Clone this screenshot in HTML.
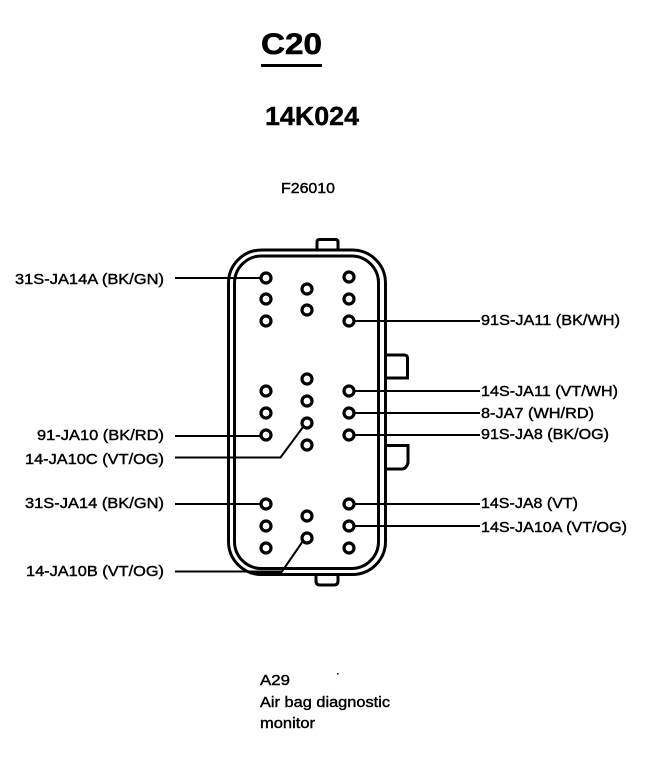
<!DOCTYPE html>
<html><head><meta charset="utf-8"><style>
html,body{margin:0;padding:0;background:#fff}
svg{display:block}
text{font-family:"Liberation Sans",sans-serif;fill:#000;stroke:#000;stroke-width:.4px}
.l{font-size:14.5px}
</style></head><body>
<svg width="672" height="758" viewBox="0 0 672 758" xmlns="http://www.w3.org/2000/svg">
<text x="261" y="54" font-size="30" font-weight="bold" textLength="61" lengthAdjust="spacingAndGlyphs" style="stroke-width:.6px">C20</text>
<rect x="261" y="64" width="61" height="3" fill="#000"/>
<text x="265" y="125" font-size="26" font-weight="bold" textLength="94" lengthAdjust="spacingAndGlyphs">14K024</text>
<text x="281" y="193" class="l" textLength="54" lengthAdjust="spacingAndGlyphs">F26010</text>

<g fill="none" stroke="#000">
<path d="M317 250V242Q317 239.500 319.500 239.500H335.500Q338 239.500 338 242V250" stroke-width="3"/>
<path d="M316 574V581Q316 585 320 585H334Q338 585 338 581V574" stroke-width="3"/>
<path d="M386 355H404Q407.500 355 407.500 358V378H386" stroke-width="3"/>
<path d="M386 445.500H408V463Q406 469 402 469H386" stroke-width="3"/>
<rect x="228.500" y="250" width="157" height="324.500" rx="33" fill="#fff" stroke-width="3"/>
<rect x="234.500" y="256" width="144" height="312.500" rx="27" stroke-width="3"/>
<path d="M175 278H261M175 436H261M175 504H261M175 457.500H280.500L303 427M175 571.500H282L303 541" stroke-width="2"/>
<path d="M354 321H480M354 391H480M354 413H480M354 435H480M354 504H480M354 526H480" stroke-width="2"/>
<path d="M250 572.500H282" stroke-width="4"/>
</g>

<g fill="#fff" stroke="#000" stroke-width="3.200">
<circle cx="266" cy="278" r="5"/><circle cx="266" cy="299" r="5"/><circle cx="266" cy="321" r="5"/>
<circle cx="307" cy="289" r="5"/><circle cx="307" cy="310" r="5"/>
<circle cx="349" cy="277" r="5"/><circle cx="349" cy="299" r="5"/><circle cx="349" cy="321" r="5"/>
<circle cx="266" cy="391" r="5"/><circle cx="266" cy="413" r="5"/><circle cx="266" cy="435" r="5"/>
<circle cx="307" cy="379" r="5"/><circle cx="307" cy="401" r="5"/><circle cx="307" cy="423" r="5"/><circle cx="307" cy="445" r="5"/>
<circle cx="349" cy="391" r="5"/><circle cx="349" cy="413" r="5"/><circle cx="349" cy="435" r="5"/>
<circle cx="266" cy="504" r="5"/><circle cx="266" cy="526" r="5"/><circle cx="266" cy="548" r="5"/>
<circle cx="307" cy="516" r="5"/><circle cx="307" cy="538" r="5"/>
<circle cx="349" cy="504" r="5"/><circle cx="349" cy="526" r="5"/><circle cx="349" cy="548" r="5"/>
</g>

<text x="15" y="284" class="l" textLength="149" lengthAdjust="spacingAndGlyphs">31S-JA14A (BK/GN)</text>
<text x="37" y="440" class="l" textLength="127" lengthAdjust="spacingAndGlyphs">91-JA10 (BK/RD)</text>
<text x="25" y="464" class="l" textLength="139" lengthAdjust="spacingAndGlyphs">14-JA10C (VT/OG)</text>
<text x="25" y="508" class="l" textLength="139" lengthAdjust="spacingAndGlyphs">31S-JA14 (BK/GN)</text>
<text x="26" y="576" class="l" textLength="138" lengthAdjust="spacingAndGlyphs">14-JA10B (VT/OG)</text>
<text x="481" y="325" class="l" textLength="139" lengthAdjust="spacingAndGlyphs">91S-JA11 (BK/WH)</text>
<text x="481" y="396" class="l" textLength="137" lengthAdjust="spacingAndGlyphs">14S-JA11 (VT/WH)</text>
<text x="481" y="418" class="l" textLength="113" lengthAdjust="spacingAndGlyphs">8-JA7 (WH/RD)</text>
<text x="481" y="439" class="l" textLength="128" lengthAdjust="spacingAndGlyphs">91S-JA8 (BK/OG)</text>
<text x="481" y="508" class="l" textLength="97" lengthAdjust="spacingAndGlyphs">14S-JA8 (VT)</text>
<text x="481" y="532" class="l" textLength="146" lengthAdjust="spacingAndGlyphs">14S-JA10A (VT/OG)</text>
<text x="260" y="685" class="l" textLength="30" lengthAdjust="spacingAndGlyphs">A29</text>
<text x="260" y="707" class="l" textLength="130" lengthAdjust="spacingAndGlyphs">Air bag diagnostic</text>
<text x="260" y="728" class="l" textLength="55" lengthAdjust="spacingAndGlyphs">monitor</text>
<rect x="337" y="673" width="1.500" height="1.500" fill="#000"/>
</svg>
</body></html>
